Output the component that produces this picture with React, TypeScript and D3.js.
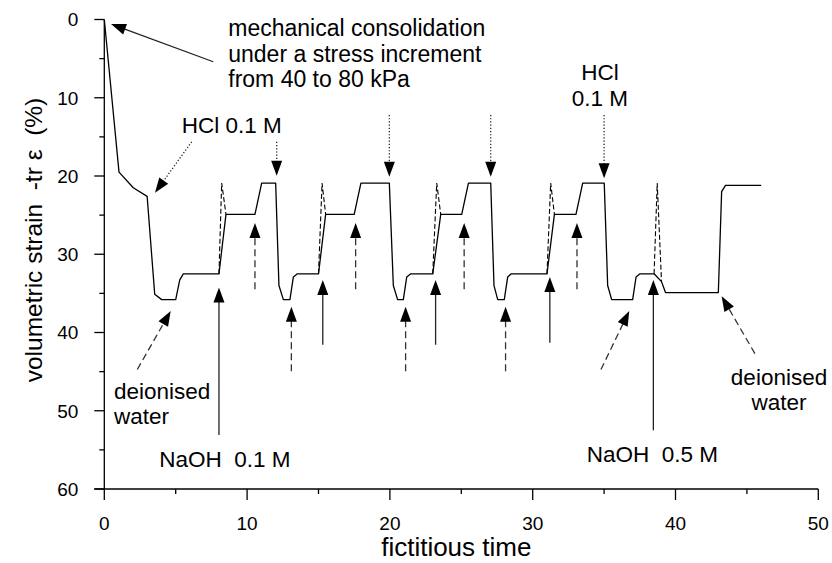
import React from "react";
import * as d3 from "d3";

// Volumetric strain history (fictitious time, strain in %)
const strainTime = [0, 1.03, 2.03, 3.0, 3.53, 4.02, 5.0, 5.28, 5.53, 8.03, 8.52, 10.55, 11.02, 12.0, 12.23, 12.54, 13.0, 13.24, 13.52, 15.0, 15.5, 17.5, 17.97, 19.96, 20.24, 20.54, 20.94, 21.18, 21.46, 23.0, 23.56, 25.03, 25.5, 27.06, 27.29, 27.55, 28.01, 28.25, 28.5, 31.0, 31.52, 33.03, 33.5, 35.01, 35.25, 35.53, 37.0, 37.24, 37.51, 38.5, 39.02, 39.3, 43.0, 43.23, 43.5, 46.0];
const strainValue = [0, 19.5, 21.5, 22.6, 35.1, 35.8, 35.8, 33.3, 32.5, 32.5, 24.9, 24.9, 20.9, 20.9, 34.0, 35.8, 35.8, 32.9, 32.5, 32.5, 24.9, 24.9, 20.9, 20.9, 34.0, 35.8, 35.8, 32.9, 32.5, 32.5, 24.9, 24.9, 20.9, 20.9, 34.0, 35.8, 35.8, 32.9, 32.5, 32.5, 24.9, 24.9, 20.9, 20.9, 34.0, 35.8, 35.8, 32.9, 32.5, 32.5, 33.5, 34.9, 34.9, 22.0, 21.2, 21.2];

// Transient overshoots when NaOH is introduced (dashed)
const spikeTime = [
  [8.03, 8.22, 8.52],
  [15.0, 15.25, 15.5],
  [23.0, 23.28, 23.56],
  [31.0, 31.26, 31.52],
  [38.5, 38.72, 39.02],
];
const spikeValue = [
  [32.5, 20.9, 24.9],
  [32.5, 20.9, 24.9],
  [32.5, 20.9, 24.9],
  [32.5, 20.9, 24.9],
  [32.5, 20.9, 33.5],
];

const xTicksMajor = [0, 10, 20, 30, 40, 50];
const xTicksMinor = [5, 15, 25, 35, 45];
const yTicksMajor = [0, 10, 20, 30, 40, 50, 60];
const yTicksMinor = [5, 15, 25, 35, 45, 55];

// Annotation arrows: [t0, v0, t1, v1] from tail to head
const solidArrows = [
  [7.63, 5.4, 0.47, 0.58],
  [8.03, 53.1, 8.03, 34.25],
  [15.3, 41.56, 15.3, 33.3],
  [23.2, 41.56, 23.2, 33.3],
  [31.2, 41.3, 31.2, 32.9],
  [38.45, 52.5, 38.45, 33.3],
];
const dottedArrows = [
  [6.12, 15.63, 3.55, 22.15],
  [12.07, 15.63, 12.07, 19.97],
  [19.96, 12.2, 19.96, 20.1],
  [27.06, 12.2, 27.06, 20.1],
  [35.0, 12.2, 35.0, 20.3],
];
const dashedArrows = [
  [2.31, 44.73, 4.65, 37.24],
  [10.55, 34.46, 10.55, 26.0],
  [13.1, 44.95, 13.1, 36.7],
  [17.6, 34.46, 17.6, 26.0],
  [21.1, 44.95, 21.1, 36.7],
  [25.2, 34.46, 25.2, 26.0],
  [28.1, 44.95, 28.1, 36.7],
  [33.1, 34.46, 33.1, 26.0],
  [34.78, 44.73, 36.76, 37.24],
  [45.56, 42.69, 43.23, 35.36],
];

// Text annotations: [t, v, anchor, text]
const labels: [number, number, string, string][] = [
  [8.68, 2.11, "start", "mechanical consolidation"],
  [8.68, 5.4, "start", "under a stress increment"],
  [8.68, 8.63, "start", "from 40 to 80 kPa"],
  [5.42, 14.51, "start", "HCl 0.1 M"],
  [34.71, 7.74, "middle", "HCl"],
  [34.71, 11.06, "middle", "0.1 M"],
  [0.68, 48.44, "start", "deionised"],
  [0.68, 51.73, "start", "water"],
  [3.85, 57.19, "start", "NaOH  0.1 M"],
  [33.78, 56.55, "start", "NaOH  0.5 M"],
  [47.25, 46.74, "middle", "deionised"],
  [47.25, 49.85, "middle", "water"],
];

const W = 832;
const H = 563;
const FONT = "'Liberation Sans', Arial, Helvetica, sans-serif";

const x = d3.scaleLinear().domain([0, 50]).range([104.3, 818.3]);
const y = d3.scaleLinear().domain([0, 60]).range([19.5, 489]);

function Arrow({ a, dash, color }: { a: number[]; dash?: string; color: string }) {
  const x0 = x(a[0]);
  const y0 = y(a[1]);
  const x1 = x(a[2]);
  const y1 = y(a[3]);
  const len = Math.hypot(x1 - x0, y1 - y0);
  const ux = (x1 - x0) / len;
  const uy = (y1 - y0) / len;
  const headL = 15;
  const headW = 5.5;
  const bx = x1 - ux * headL;
  const by = y1 - uy * headL;
  const px = -uy;
  const py = ux;
  const pts = [
    [x1, y1],
    [bx + px * headW, by + py * headW],
    [bx - px * headW, by - py * headW],
  ];
  return (
    <g>
      <line x1={x0} y1={y0} x2={bx + ux} y2={by + uy} stroke={color} strokeWidth={1.3} strokeDasharray={dash} />
      <polygon points={pts.map((p) => p.join(",")).join(" ")} fill="#000" />
    </g>
  );
}

export default function App() {
  const line = d3
    .line<number>()
    .x((_, i) => x(strainTime[i]))
    .y((d) => y(d));
  const curvePath = line(strainValue) || "";

  return (
    <svg
      width={W}
      height={H}
      style={{ position: "absolute", left: 0, top: 0, background: "#fff" }}
      fontFamily={FONT}
    >
      <rect width={W} height={H} fill="#fff" />
      {/* axes */}
      <line x1={x(0)} y1={y(0)} x2={x(0)} y2={y(60)} stroke="#000" strokeWidth={1.3} />
      <line x1={x(0) - 10} y1={y(60)} x2={x(50)} y2={y(60)} stroke="#000" strokeWidth={1.3} />
      {yTicksMajor.map((v) => (
        <g key={"ym" + v}>
          <line x1={x(0) - 10} x2={x(0)} y1={y(v)} y2={y(v)} stroke="#000" strokeWidth={1.3} />
          <text x={x(0) - 26} y={y(v)} dy="0.36em" textAnchor="end" fontSize={19}>
            {v}
          </text>
        </g>
      ))}
      {yTicksMinor.map((v) => (
        <line key={"yn" + v} x1={x(0) - 5} x2={x(0)} y1={y(v)} y2={y(v)} stroke="#000" strokeWidth={1.3} />
      ))}
      {xTicksMajor.map((t) => (
        <g key={"xm" + t}>
          <line x1={x(t)} x2={x(t)} y1={y(60)} y2={y(60) + 11} stroke="#000" strokeWidth={1.3} />
          <text x={x(t)} y={530} textAnchor="middle" fontSize={19}>
            {t}
          </text>
        </g>
      ))}
      {xTicksMinor.map((t) => (
        <line key={"xn" + t} x1={x(t)} x2={x(t)} y1={y(60)} y2={y(60) + 5} stroke="#000" strokeWidth={1.3} />
      ))}
      <text x={(x(0) + x(50)) / 2 - 5} y={556} textAnchor="middle" fontSize={26}>
        fictitious time
      </text>
      <text
        transform={`translate(42,240) rotate(-90)`}
        textAnchor="middle"
        fontSize={24.5}
        style={{ whiteSpace: "pre" }}
      >
        {"volumetric strain  -tr ε  (%)"}
      </text>

      {/* strain curve */}
      <path d={curvePath} fill="none" stroke="#000" strokeWidth={1.3} strokeLinejoin="round" />
      {spikeValue.map((vals, k) => {
        const d = d3
          .line<number>()
          .x((_, i) => x(spikeTime[k][i]))
          .y((v) => y(v))(vals);
        return <path key={"s" + k} d={d || ""} fill="none" stroke="#000" strokeWidth={1.1} strokeDasharray="5 2.5" />;
      })}

      {/* annotations */}
      {solidArrows.map((a, i) => (
        <Arrow key={"a" + i} a={a} color="#222" />
      ))}
      {dottedArrows.map((a, i) => (
        <Arrow key={"d" + i} a={a} color="#222" dash="1.2 2" />
      ))}
      {dashedArrows.map((a, i) => (
        <Arrow key={"e" + i} a={a} color="#333" dash="7 4" />
      ))}
      {labels.map(([t, v, anchor, s], i) => (
        <text
          key={"l" + i}
          x={x(t)}
          y={y(v)}
          textAnchor={anchor as any}
          fontSize={i < 3 ? 23 : 22.5}
          style={{ whiteSpace: "pre" }}
        >
          {s}
        </text>
      ))}
    </svg>
  );
}
